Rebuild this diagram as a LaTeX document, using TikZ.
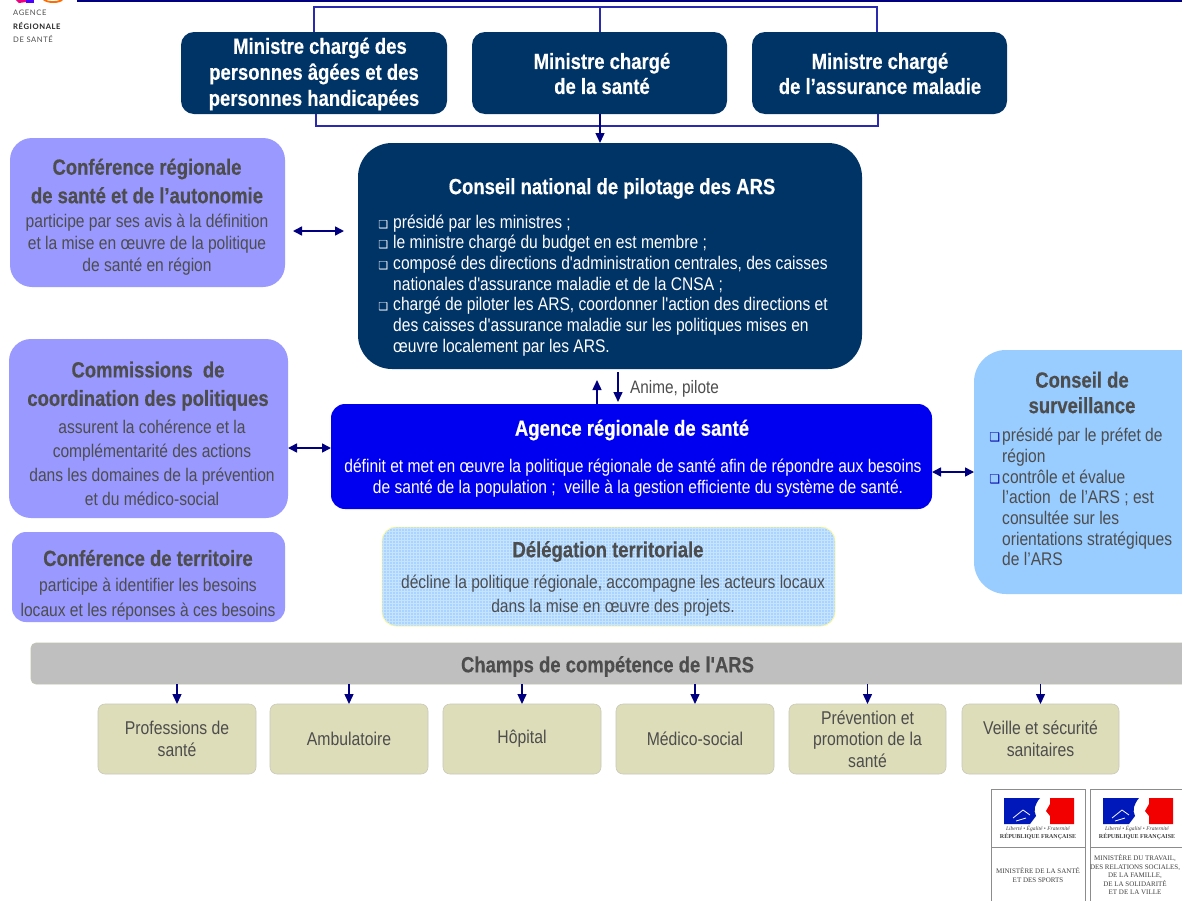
\documentclass[tikz,border=0pt]{standalone}
\usepackage{fontspec}
\setmainfont[Ligatures=ResetAll,FakeStretch=0.852,BoldFeatures={FakeStretch=0.84,FakeBold=0.35}]{Liberation Sans}
\newfontfamily\plainf[FakeStretch=0.852,BoldFeatures={FakeStretch=0.84,FakeBold=0.35}]{Liberation Sans}
\newcommand{\ap}{{\plainf\char39}}
\newfontfamily\symf{DejaVu Sans}
\newfontfamily\serf{Liberation Serif}
\newfontfamily\logof[LetterSpace=8]{Lato}
\usetikzlibrary{arrows.meta}
\definecolor{navy}{HTML}{003366}
\definecolor{arsblue}{HTML}{0000F0}
\definecolor{lav}{HTML}{9999FF}
\definecolor{sky}{HTML}{99CCFF}
\definecolor{gtext}{HTML}{4D4D4D}
\definecolor{arrowc}{HTML}{000080}
\definecolor{linec}{HTML}{2A2AB0}
\definecolor{olive}{HTML}{DDDDB9}
\newcommand{\fs}[2]{\fontsize{#1}{#2}\selectfont}
\newcommand{\bul}{\llap{\symf\fontsize{11}{11}\selectfont ❑\hspace{5pt}}}
\newcommand{\bulb}{\llap{\color{arsblue!70!black}\symf\bfseries\fontsize{12}{12}\selectfont ❑\hspace{2pt}}}
\tikzset{
  x=1pt,y=-1pt,
  bx/.style={anchor=north west,inner sep=0pt,outer sep=0pt,rounded corners=#1},
  ministre/.style={bx=13pt,fill=navy,draw=none,text=white,align=center,font=\fs{22}{26}\bfseries},
  lavbox/.style={bx=#1,fill=lav,text=gtext,align=center},
  champ/.style={bx=7pt,fill=olive,draw=olive!75!black!60,line width=.6pt,minimum width=158pt,minimum height=70pt,text=gtext,align=center,font=\fs{18.5}{21.5}},
  title/.style={inner sep=0pt,align=center,font=\fs{22}{28.5}\bfseries,text=gtext},
  body/.style={inner sep=0pt,align=center,font=\fs{18.3}{24},text=gtext},
  link/.style={draw=linec,line width=1.2pt},
  arr/.style={draw=arrowc,line width=1.4pt,-{Triangle[length=10pt,width=9pt]}},
  darr/.style={draw=arrowc,line width=1.6pt,{Triangle[length=9pt,width=9pt]}-{Triangle[length=9pt,width=9pt]}},
  ins/.style={inner sep=0pt,font=\serf\fontsize{7}{8.5}\selectfont,text=black!75,align=center},
}
\begin{document}
\begin{tikzpicture}
\useasboundingbox (0,0) rectangle (1182,900);
\fill[white] (0,0) rectangle (1182,900);
% header
\coordinate (hl) at (77,0.8); \coordinate (hr) at (1182,0.8);
\draw[draw=arrowc,line width=1.5pt] (hl) -- (hr);
% logo
\fill[magenta!90!red] (16,0) -- (26,0) -- (26,2) -- (19,3) -- cycle;
\fill[blue!70!magenta] (26,0) rectangle (34,3);
\fill[orange!85!red] (43,0) -- (46,0) .. controls (48,1.5) and (57,1.5) .. (60,0) -- (63,0) .. controls (60,4) and (47,4) .. (43,0) -- cycle;
\node[inner sep=0pt,anchor=west,font=\logof\fontsize{7.6}{8}\selectfont,text=gtext] (lg1) at (13,13) {AGENCE};
\node[inner sep=0pt,anchor=west,font=\logof\fontsize{7.6}{8}\selectfont\bfseries,text=black!85] (lg2) at (13,26) {RÉGIONALE};
\node[inner sep=0pt,anchor=west,font=\logof\fontsize{7.6}{8}\selectfont,text=gtext] (lg3) at (13,39) {DE SANTÉ};

% ministres
\node[ministre,minimum width=266pt,minimum height=82pt] (m1) at (181,32) {};
\node[inner sep=0pt,align=center,text=white,font=\fs{22}{26}\bfseries] (m1t) at (314,74) {\hspace*{12pt}Ministre chargé des\\personnes âgées et des\\personnes handicapées};
\node[ministre,minimum width=255pt,minimum height=82pt] (m2) at (472,32) {};
\node[inner sep=0pt,align=center,text=white,font=\fs{22}{25}\bfseries] (m2t) at (602,73.5) {Ministre chargé\\de la santé};
\node[ministre,minimum width=255pt,minimum height=82pt] (m3) at (752,32) {};
\node[inner sep=0pt,align=center,text=white,font=\fs{22}{25}\bfseries] (m3t) at (880,73.5) {Ministre chargé\\de l’assurance maladie};

% conseil national
\node[bx=34pt,fill=navy,minimum width=504pt,minimum height=226pt] (cn) at (358,143) {};
\node[inner sep=0pt,font=\fs{22}{26}\bfseries,text=white] (cnt) at (612,188.5) {Conseil national de pilotage des ARS};
\node[inner sep=0pt,anchor=north west,align=left,text=white,font=\fs{18.3}{20.7}] (cnl) at (393,214.5) {\bul présidé par les ministres ;\\\bul le ministre chargé du budget en est membre ;\\\bul composé des directions d\ap administration centrales, des caisses\\nationales d\ap assurance maladie et de la CNSA ;\\\bul chargé de piloter les ARS, coordonner l\ap action des directions et\\des caisses d\ap assurance maladie sur les politiques mises en\\œuvre localement par les ARS.};

% left boxes
\node[lavbox=22pt,minimum width=275pt,minimum height=149pt] (crsa) at (10,138) {};
\node[title] (crsat) at (147,181) {Conférence régionale\\de santé et de l’autonomie};
\node[body,font=\fs{18.3}{22}] (crsab) at (147,245) {participe par ses avis à la définition\\et la mise en œuvre de la politique\\de santé en région};

\node[lavbox=22pt,minimum width=279pt,minimum height=179pt] (cc) at (9,339) {};
\node[title] (cct) at (148,386) {Commissions\ \ de\\coordination des politiques};
\node[body] (ccb) at (152,463) {assurent la cohérence et la\\complémentarité des actions\\dans les domaines de la prévention\\et du médico-social};

\node[lavbox=14pt,minimum width=273pt,minimum height=90pt] (ct) at (12,532) {};
\node[title] (ctt) at (148,558) {Conférence de territoire};
\node[body,font=\fs{18.3}{25}] (ctb) at (148,599) {participe à identifier les besoins\\locaux et les réponses à ces besoins};

% ARS
\node[bx=14pt,fill=arsblue,minimum width=601pt,minimum height=105pt] (ars) at (331,404) {};
\node[inner sep=0pt,font=\fs{22}{26}\bfseries,text=white] (arst) at (632,430) {Agence régionale de santé};
\node[inner sep=0pt,align=center,text=white,font=\fs{18.3}{21}] (arsb) at (633,478) {définit et met en œuvre la politique régionale de santé afin de répondre aux besoins\\\hspace*{10pt}de santé de la population ;\ \ veille à la gestion efficiente du système de santé.};
\node[inner sep=0pt,anchor=west,font=\fs{18}{20},text=gtext] (anime) at (630,389) {Anime, pilote};

% delegation
\node[bx=14pt,fill=sky!85!white,draw=yellow!40!white,line width=.8pt,minimum width=453pt,minimum height=99pt,
  path picture={\draw[white,opacity=.35,line width=.7pt,step=3pt] (-240pt,-60pt) grid (240pt,60pt);}] (dt) at (382,527) {};
\node[title] (dtt) at (608,551.5) {Délégation territoriale};
\node[inner sep=0pt,align=center,text=gtext,font=\fs{18.3}{24}] (dtb) at (613,595.5) {décline la politique régionale, accompagne les acteurs locaux\\dans la mise en œuvre des projets.};

% conseil de surveillance
\node[bx=32pt,fill=sky,minimum width=240pt,minimum height=244pt] (cs) at (974,350) {};
\node[inner sep=0pt,align=center,text=gtext,font=\fs{22}{25.5}\bfseries] (cst) at (1082,392.5) {Conseil de\\surveillance};
\node[inner sep=0pt,anchor=north west,align=left,text=gtext,font=\fs{18.3}{20.7}] (csb) at (1002,428) {\bulb présidé par le préfet de\\région\\\bulb contrôle et évalue\\l’action\ \ de l’ARS ; est\\consultée sur les\\orientations stratégiques\\de l’ARS};

% champs
\node[bx=5pt,fill=black!25,draw=olive!70!black!60,line width=.7pt,minimum width=1160pt,minimum height=41pt] (ch) at (31,643) {};
\node[inner sep=0pt,font=\fs{22}{25}\bfseries,text=gtext] (cht) at (607.5,666.5) {Champs de compétence de l\ap ARS};
\node[champ] (c1) at (98,704) {Professions de\\santé};
\node[champ] (c2) at (270,704) {Ambulatoire};
\node[champ] (c3) at (443,704) {Hôpital\vphantom{g}};
\node[champ] (c4) at (616,704) {Médico-social};
\node[champ,minimum width=157pt] (c5) at (789,704) {Prévention et\\promotion de la\\santé};
\node[champ,minimum width=157pt] (c6) at (962,704) {Veille et sécurité\\sanitaires};

% connecteurs
\coordinate (tl) at (314,7); \coordinate (tm) at (600,7); \coordinate (tr) at (877,7);
\coordinate (bl) at (316,126); \coordinate (bm) at (600,126); \coordinate (br) at (878,126);
\draw[link] (m1.north -| tl) -- (tl) -- (tr) -- (m3.north -| tr);
\draw[link] (tm) -- (m2.north -| tm);
\draw[link] (m1.south -| bl) -- (bl) -- (br) -- (m3.south -| br);
\draw[arr] (m2.south -| bm) -- (cn.north -| bm);
\coordinate (a1) at (293,231); \coordinate (a2) at (344,231);
\draw[darr] (a1) -- (a2);
\draw[darr] (cc.east |- 0,448) -- (ars.west |- 0,448);
\draw[darr] (ars.east |- 0,472) -- (cs.west |- 0,472);
\coordinate (up) at (597,380); \coordinate (dn) at (618,372); \coordinate (dn2) at (618,402);
\draw[arr] (ars.north -| up) -- (up);
\draw[arr] (dn) -- (dn2);
\foreach \n in {1,...,6}{\draw[arr] (ch.south -| c\n.north) -- (c\n.north);}

% cartouches
\node[bx=0pt,draw=black!45,line width=.7pt,minimum width=94pt,minimum height=120pt] (rf1) at (991,789) {};
\node[bx=0pt,draw=black!45,line width=.7pt,minimum width=94pt,minimum height=120pt] (rf2) at (1090,789) {};
\draw[black!45,line width=.7pt] (991,847) -- (1085,847) (1090,847) -- (1184,847);
\foreach \dx in {0,99}{
  \fill[blue!55!navy] (1004+\dx,798) -- (1040+\dx,798) .. controls (1035+\dx,804) and (1033+\dx,810) .. (1036+\dx,816) -- (1030+\dx,824) -- (1004+\dx,824) -- cycle;
  \draw[white,line width=.8pt] (1013+\dx,818) -- (1023+\dx,810) -- (1030+\dx,815) (1016+\dx,821) -- (1026+\dx,818);
  \fill[red!95!black] (1050+\dx,798) -- (1074+\dx,798) -- (1074+\dx,824) -- (1050+\dx,824) -- (1050+\dx,816) -- (1046+\dx,811) -- (1050+\dx,804) -- cycle;
}
\node[ins,font=\serf\itshape\fontsize{5.5}{6}\selectfont] (li1) at (1038,829) {Liberté • Égalité • Fraternité};
\node[ins,font=\serf\bfseries\fontsize{6}{7}\selectfont] (rp1) at (1038,837) {RÉPUBLIQUE FRANÇAISE};
\node[ins,font=\serf\itshape\fontsize{5.5}{6}\selectfont] (li2) at (1137,829) {Liberté • Égalité • Fraternité};
\node[ins,font=\serf\bfseries\fontsize{6}{7}\selectfont] (rp2) at (1137,837) {RÉPUBLIQUE FRANÇAISE};
\node[ins] (mn1) at (1038,875) {MINISTÈRE DE LA SANTÉ\\ET DES SPORTS};
\node[ins] (mn2) at (1135,875) {MINISTÈRE DU TRAVAIL,\\DES RELATIONS SOCIALES,\\DE LA FAMILLE,\\DE LA SOLIDARITÉ\\ET DE LA VILLE};
\end{tikzpicture}
\end{document}
